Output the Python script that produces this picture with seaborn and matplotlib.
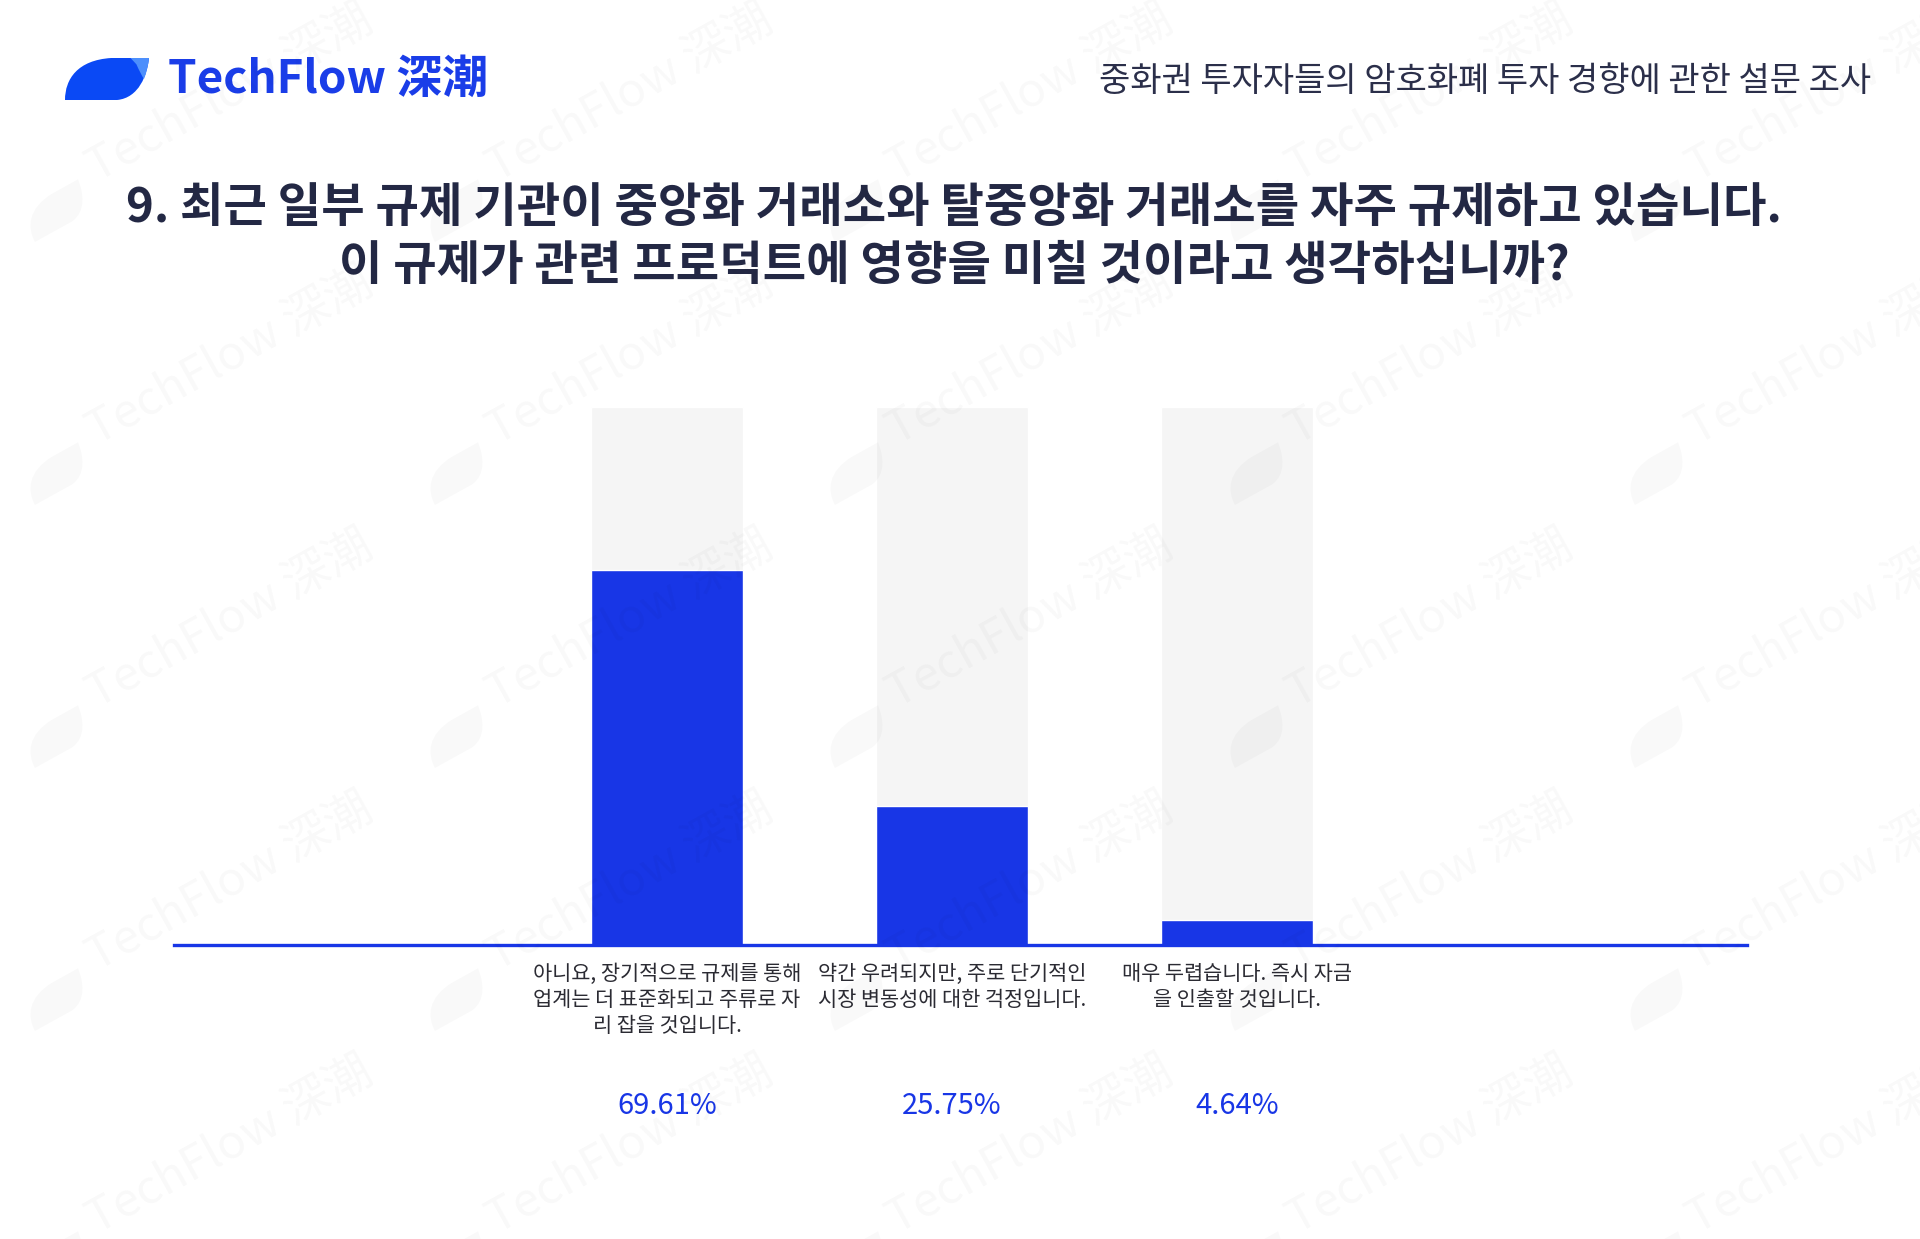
"""TechFlow survey Q9: regulators' crackdown on exchanges and product impact."""

import matplotlib.pyplot as plt
import numpy as np
import pandas as pd
import seaborn as sns
from matplotlib.patches import PathPatch
from matplotlib.path import Path
from matplotlib.transforms import Affine2D, blended_transform_factory


TITLE = (
    "9. 최근 일부 규제 기관이 중앙화 거래소와 탈중앙화 거래소를 자주 규제하고 있습니다.\n"
    "이 규제가 관련 프로덕트에 영향을 미칠 것이라고 생각하십니까?"
)
SUBTITLE = "중화권 투자자들의 암호화폐 투자 경향에 관한 설문 조사"
BRAND = "TechFlow 深潮"

CATEGORIES = [
    "아니요, 장기적으로 규제를 통해\n업계는 더 표준화되고 주류로 자\n리 잡을 것입니다.",
    "약간 우려되지만, 주로 단기적인\n시장 변동성에 대한 걱정입니다.",
    "매우 두렵습니다. 즉시 자금\n을 인출할 것입니다.",
]
PERCENTAGES = [69.61, 25.75, 4.64]
FULL_SCALE = [100, 100, 100]

BLUE = "#1836e6"
TRACK = "#f5f5f5"
NAVY = "#232844"
W, H = 1920, 1239

# leaf outline in a unit box, shared by the logo and the watermark
LEAF_VERTS = [
    (0.0, 0.0), (0.62, 0.0),
    (0.88, 0.05), (0.98, 0.6), (1.0, 1.0),
    (0.55, 1.0),
    (0.15, 0.95), (0.0, 0.5), (0.0, 0.0),
]
LEAF_CODES = [Path.MOVETO, Path.LINETO, Path.CURVE4, Path.CURVE4, Path.CURVE4,
              Path.LINETO, Path.CURVE4, Path.CURVE4, Path.CURVE4]


def draw_logo(fig):
    ax = fig.add_axes([65 / W, 1 - 100 / H, 84 / W, 42 / H])
    ax.set_xlim(0, 1)
    ax.set_ylim(0, 1)
    ax.axis("off")
    ax.add_patch(PathPatch(Path(LEAF_VERTS, LEAF_CODES), facecolor="#0a49f5", edgecolor="none"))
    light = [(0.78, 1.0), (1.0, 1.0), (0.99, 0.75), (0.94, 0.5), (0.9, 0.62), (0.85, 0.85), (0.78, 1.0)]
    light_codes = [Path.MOVETO, Path.LINETO, Path.CURVE3, Path.CURVE3, Path.CURVE3, Path.CURVE3, Path.CLOSEPOLY]
    ax.add_patch(PathPatch(Path(light, light_codes), facecolor="#4d8ffc", edgecolor="none"))


def draw_watermark(fig):
    leaf = Path(LEAF_VERTS, LEAF_CODES)
    for y in np.arange(182, 1300, 263):
        for x in np.arange(97, 1950, 400):
            fig.text(x / W, 1 - y / H, BRAND, rotation=29, fontsize=34,
                     color="#000000", alpha=0.028, ha="left", va="baseline", zorder=10,
                     rotation_mode="anchor")
            tr = Affine2D().scale(68, 34).rotate_deg(29).translate(x - 62, H - y - 60)
            fig.add_artist(PathPatch(leaf, transform=tr, facecolor="#000000", alpha=0.025,
                                     edgecolor="none", zorder=10))


def main():
    sns.set_theme(style="white")
    plt.rcParams["font.family"] = ["Noto Sans CJK KR", "DejaVu Sans"]

    df = pd.DataFrame({"answer": CATEGORIES, "pct": PERCENTAGES, "full": FULL_SCALE})

    fig = plt.figure(figsize=(W / 100, H / 100), dpi=100)
    fig.patch.set_facecolor("white")
    ax = fig.add_axes([174 / W, 1 - 945 / H, (1747 - 174) / W, (945 - 407) / H])
    ax.set_facecolor("none")

    sns.barplot(data=df, x="answer", y="full", color=TRACK, width=0.534, saturation=1, ax=ax)
    sns.barplot(data=df, x="answer", y="pct", color=BLUE, width=0.534, saturation=1, ax=ax)

    ax.set_ylim(0, 100)
    ax.set_xlim(-1.73, 3.79)
    ax.set_xlabel("")
    ax.set_ylabel("")
    ax.set_yticks([])
    ax.tick_params(axis="x", length=0, pad=13, labelsize=15, labelcolor="#2b2b33")
    for lbl in ax.get_xticklabels():
        lbl.set_linespacing(1.24)
        lbl.set_verticalalignment("top")
    sns.despine(ax=ax, left=True)
    ax.spines["bottom"].set_color(BLUE)
    ax.spines["bottom"].set_linewidth(2.4)
    ax.spines["bottom"].set_zorder(5)

    trans = blended_transform_factory(ax.transData, fig.transFigure)
    for i, value in enumerate(PERCENTAGES):
        ax.text(i, 1 - 1106 / H, f"{value:.2f}%", transform=trans, ha="center", va="center",
                fontsize=21, color=BLUE)

    fig.text(0.497, 1 - 237 / H, TITLE, ha="center", va="center", fontsize=34,
             fontweight="bold", color=NAVY, linespacing=1.27)
    fig.text(1871 / W, 1 - 82 / H, SUBTITLE, ha="right", va="center", fontsize=24.5, color="#2b2f4a")
    fig.text(168 / W, 1 - 80 / H, BRAND, ha="left", va="center", fontsize=33,
             fontweight="bold", color="#1a3de8")

    draw_logo(fig)
    draw_watermark(fig)

    fig.savefig("out.png", dpi=100, facecolor="white")
    plt.close(fig)


if __name__ == "__main__":
    main()
